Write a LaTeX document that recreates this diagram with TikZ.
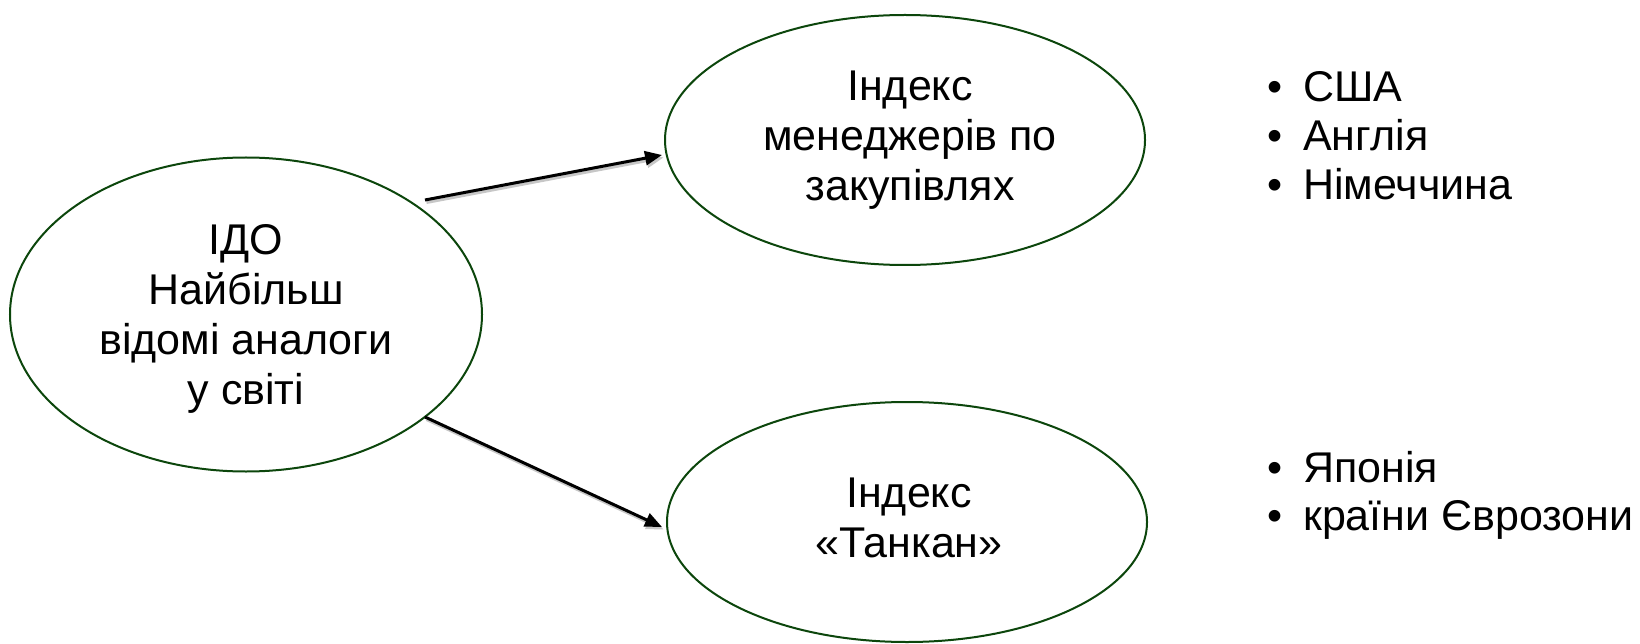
\documentclass[tikz,border=0pt]{standalone}
\usepackage{fontspec}
\setmainfont{Liberation Sans}
\usetikzlibrary{shapes.geometric,arrows.meta}
\definecolor{ringgreen}{RGB}{12,70,12}
\begin{document}
\begin{tikzpicture}[x=1pt,y=-1pt,
  ring/.style={ellipse, draw=ringgreen, line width=2pt, inner sep=0pt},
  txt/.style={align=center, inner sep=0pt, font=\fontsize{43}{50}\selectfont},
  item/.style={anchor=base west, inner sep=0pt, font=\fontsize{43}{50}\selectfont},
  dot/.style={anchor=base, inner sep=0pt, font=\fontsize{43}{50}\selectfont},
  conn/.style={line width=3pt, -{Triangle[length=17pt,width=14pt]},
    preaction={draw=black!22, line width=3pt, transform canvas={shift={(1.5pt,-2.5pt)}}}}]
\useasboundingbox (0,0) rectangle (1640,644);
\fill[white] (0,0) rectangle (1640,644);

% ellipses
\node[ring, minimum width=472pt, minimum height=314pt] (ido) at (246,314.5) {};
\node[ring, minimum width=480pt, minimum height=250pt] (pmi) at (905,140) {};
\node[ring, minimum width=480pt, minimum height=240pt] (tankan) at (907,522) {};

% texts
\node[txt] (idotxt) at (246,319) {ІДО\\Найбільш\\відомі аналоги\\у світі};
\node[txt] (pmitxt) at (910,140) {Індекс\\менеджерів по\\закупівлях};
\node[txt] (tantxt) at (909,517.6) {Індекс\\«Танкан»};

% bullet lists
\node[dot] (b1) at (1275,102) {•};
\node[item] (l1) at (1303,102) {США};
\node[dot] (b2) at (1275,151) {•};
\node[item] (l2) at (1303,151) {Англія};
\node[dot] (b3) at (1275,200) {•};
\node[item] (l3) at (1303,200) {Німеччина};
\node[dot] (b4) at (1275,482) {•};
\node[item] (l4) at (1303,482) {Японія};
\node[dot] (b5) at (1275,530) {•};
\node[item] (l5) at (1303,530) {країни Єврозони};

% connectors
\coordinate (s1) at (425,200);
\coordinate (e1) at (662,155);
\coordinate (s2) at (425,417);
\coordinate (e2) at (662,527);
\draw[conn] (s1) -- (e1);
\draw[conn] (s2) -- (e2);
\end{tikzpicture}
\end{document}
